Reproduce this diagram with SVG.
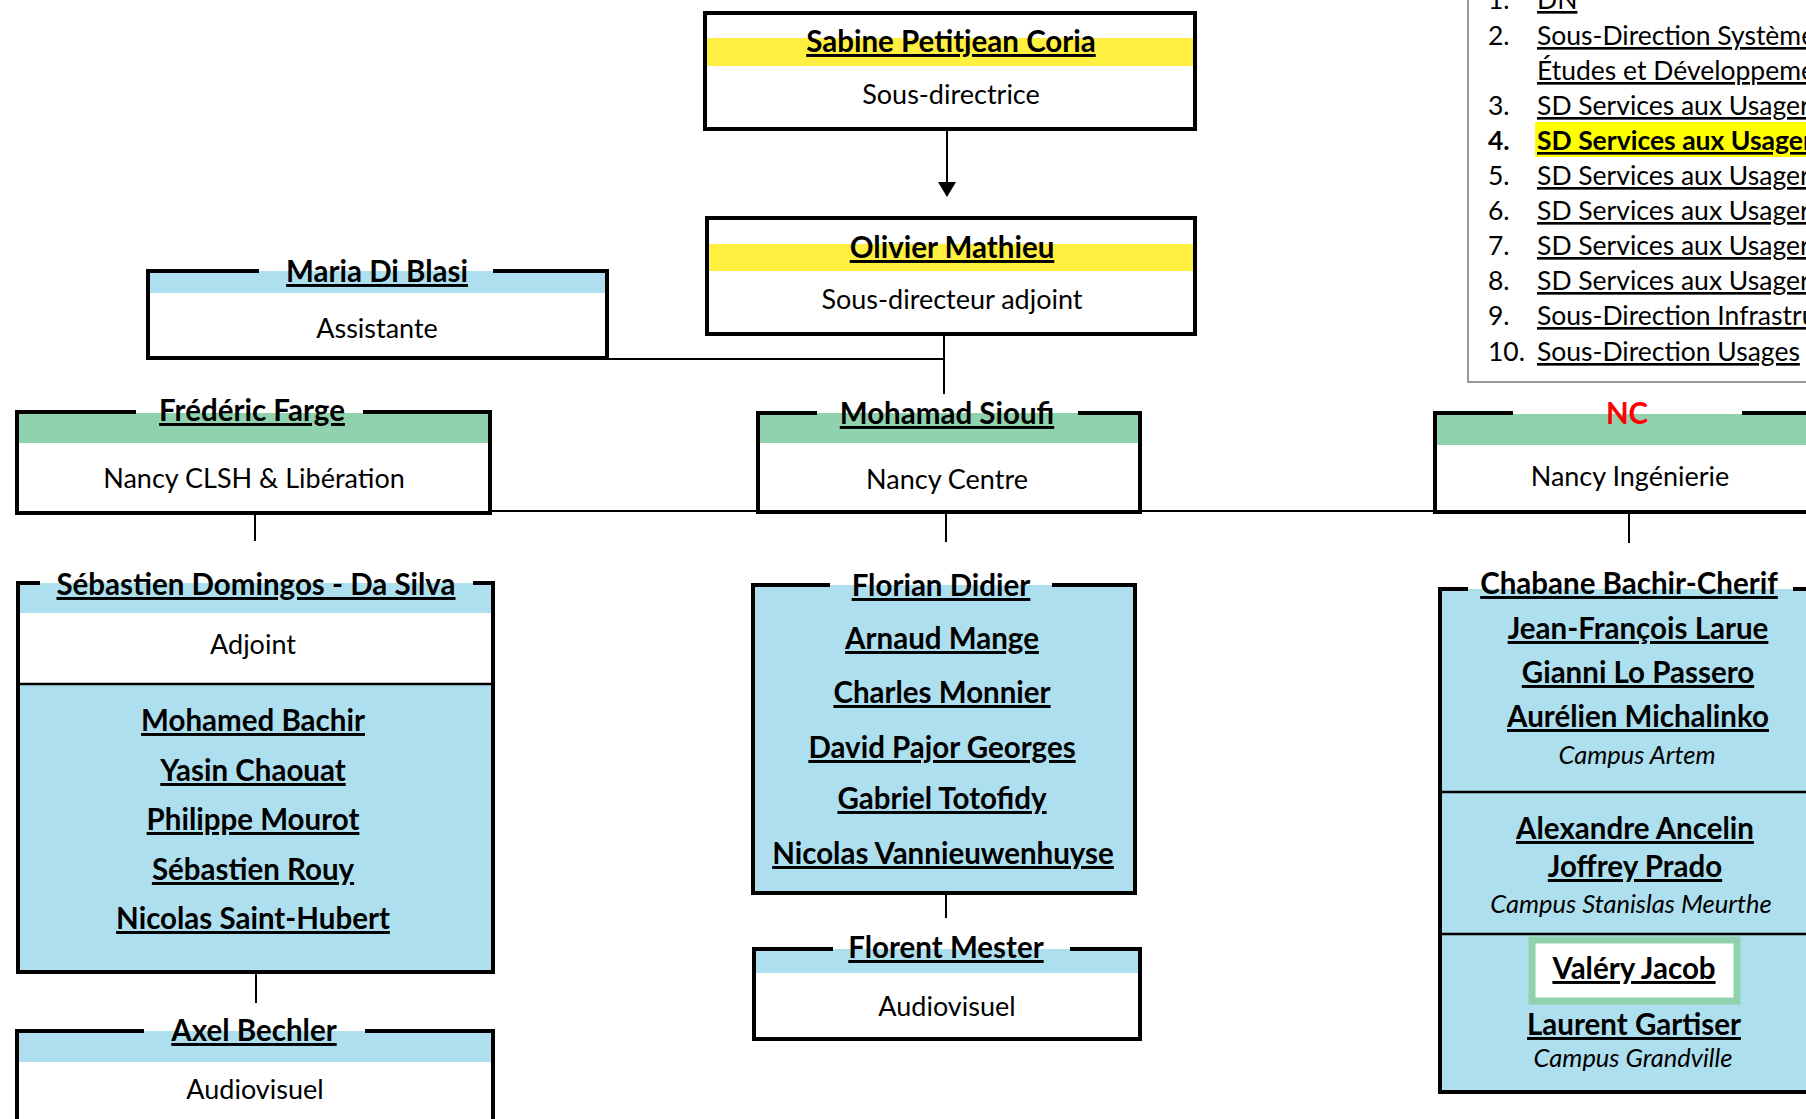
<svg xmlns="http://www.w3.org/2000/svg" width="1806" height="1119" viewBox="0 0 1806 1119">
<style>
text{font-family:Lato,"Liberation Sans",sans-serif;fill:#000}
.nm{font-size:29.5px;font-weight:bold;text-decoration:underline;text-anchor:middle}
.sub{font-size:27px;text-anchor:middle}
.it{font-size:25.5px;font-style:italic;text-anchor:middle}
.lg{font-size:26.5px}
.lk{text-decoration:underline}
.bx{fill:none;stroke:#000;stroke-width:4}
.cn{fill:none;stroke:#000;stroke-width:2}
.yl{fill:#FFEF40}
.bl{fill:#AEDFEE}
.gr{fill:#91D2AE}
</style>
<rect width="1806" height="1119" fill="#fff"/>

<g id="legend">
<rect x="1468" y="-10" width="400" height="392" fill="#fff" stroke="#999" stroke-width="2"/>
<rect x="1535" y="122" width="300" height="35" fill="#FFFF00"/>
<text class="lg" x="1488" y="9">1.</text><text class="lg lk" x="1537" y="9">DN</text>
<text class="lg" x="1488" y="45">2.</text><text class="lg lk" x="1537" y="45">Sous-Direction Systèmes</text>
<text class="lg lk" x="1537" y="80">Études et Développement</text>
<text class="lg" x="1488" y="115">3.</text><text class="lg lk" x="1537" y="115">SD Services aux Usagers</text>
<text class="lg" x="1488" y="150" font-weight="bold">4.</text><text class="lg lk" x="1537" y="150" font-weight="bold">SD Services aux Usagers</text>
<text class="lg" x="1488" y="185">5.</text><text class="lg lk" x="1537" y="185">SD Services aux Usagers</text>
<text class="lg" x="1488" y="220">6.</text><text class="lg lk" x="1537" y="220">SD Services aux Usagers</text>
<text class="lg" x="1488" y="255">7.</text><text class="lg lk" x="1537" y="255">SD Services aux Usagers</text>
<text class="lg" x="1488" y="290">8.</text><text class="lg lk" x="1537" y="290">SD Services aux Usagers</text>
<text class="lg" x="1488" y="325">9.</text><text class="lg lk" x="1537" y="325">Sous-Direction Infrastruc</text>
<text class="lg" x="1488" y="361">10.</text><text class="lg lk" x="1537" y="361">Sous-Direction Usages</text>
</g>

<g id="connectors">
<line class="cn" x1="947" y1="131" x2="947" y2="184"/>
<polygon points="938,182 956,182 947,197" fill="#000"/>
<line class="cn" x1="944" y1="336" x2="944" y2="394"/>
<line class="cn" x1="607" y1="359" x2="944" y2="359"/>
<line class="cn" x1="490" y1="511" x2="1436" y2="511"/>
<line class="cn" x1="255" y1="513" x2="255" y2="541"/>
<line class="cn" x1="946" y1="512" x2="946" y2="542"/>
<line class="cn" x1="1629" y1="512" x2="1629" y2="543"/>
<line class="cn" x1="256" y1="972" x2="256" y2="1003"/>
<line class="cn" x1="946" y1="889" x2="946" y2="918"/>
</g>

<g id="sabine">
<rect x="705" y="13" width="490" height="116" fill="#fff"/>
<rect class="yl" x="707" y="38" width="486" height="28"/>
<rect class="bx" x="705" y="13" width="490" height="116"/>
<text class="nm" x="951" y="52">Sabine Petitjean Coria</text>
<text class="sub" x="951" y="104">Sous-directrice</text>
</g>

<g id="olivier">
<rect x="707" y="218" width="488" height="116" fill="#fff"/>
<rect class="yl" x="709" y="244" width="484" height="27"/>
<rect class="bx" x="707" y="218" width="488" height="116"/>
<text class="nm" x="952" y="258">Olivier Mathieu</text>
<text class="sub" x="952" y="309">Sous-directeur adjoint</text>
</g>

<g id="maria">
<rect x="148" y="271" width="459" height="87" fill="#fff"/>
<rect class="bl" x="150" y="271" width="455" height="22"/>
<path class="bx" d="M259,271 H148 V358 H607 V271 H493"/>
<text class="nm" x="377" y="282">Maria Di Blasi</text>
<text class="sub" x="377" y="338">Assistante</text>
</g>

<g id="frederic">
<rect x="17" y="412" width="473" height="101" fill="#fff"/>
<rect class="gr" x="19" y="413" width="469" height="30"/>
<path class="bx" d="M136,412 H17 V513 H490 V412 H363"/>
<text class="nm" x="252" y="421">Frédéric Farge</text>
<text class="sub" x="254" y="488">Nancy CLSH &amp; Libération</text>
</g>

<g id="mohamad">
<rect x="758" y="413" width="382" height="99" fill="#fff"/>
<rect class="gr" x="760" y="413" width="378" height="30"/>
<path class="bx" d="M817,413 H758 V512 H1140 V413 H1078"/>
<text class="nm" x="947" y="424">Mohamad Sioufi</text>
<text class="sub" x="947" y="489">Nancy Centre</text>
</g>

<g id="nc">
<rect x="1435" y="413" width="395" height="99" fill="#fff"/>
<rect class="gr" x="1437" y="414" width="393" height="31"/>
<path class="bx" d="M1513,413 H1435 V512 H1830 M1830,413 H1742"/>
<text class="nm" x="1627" y="424" style="fill:#FF0000;text-decoration:none">NC</text>
<text class="sub" x="1630" y="486">Nancy Ingénierie</text>
</g>

<g id="sebastien">
<rect class="bl" x="18" y="583" width="475" height="389"/>
<rect x="20" y="613" width="471" height="71" fill="#fff"/>
<line x1="18" y1="684" x2="493" y2="684" stroke="#000" stroke-width="2.5"/>
<path class="bx" d="M40,583 H18 V972 H493 V583 H473"/>
<text class="nm" x="256" y="595">Sébastien Domingos - Da Silva</text>
<text class="sub" x="253" y="654">Adjoint</text>
<text class="nm" x="253" y="731">Mohamed Bachir</text>
<text class="nm" x="253" y="781">Yasin Chaouat</text>
<text class="nm" x="253" y="830">Philippe Mourot</text>
<text class="nm" x="253" y="880">Sébastien Rouy</text>
<text class="nm" x="253" y="929">Nicolas Saint-Hubert</text>
</g>

<g id="axel">
<rect x="17" y="1031" width="476" height="100" fill="#fff"/>
<rect class="bl" x="19" y="1031" width="472" height="31"/>
<path class="bx" d="M144,1031 H17 V1130 M493,1130 V1031 H365"/>
<text class="nm" x="254" y="1041">Axel Bechler</text>
<text class="sub" x="255" y="1099">Audiovisuel</text>
</g>

<g id="florian">
<rect class="bl" x="753" y="585" width="382" height="308"/>
<path class="bx" d="M830,585 H753 V893 H1135 V585 H1052"/>
<text class="nm" x="941" y="596">Florian Didier</text>
<text class="nm" x="942" y="649">Arnaud Mange</text>
<text class="nm" x="942" y="703">Charles Monnier</text>
<text class="nm" x="942" y="758">David Pajor Georges</text>
<text class="nm" x="942" y="809">Gabriel Totofidy</text>
<text class="nm" x="943" y="864">Nicolas Vannieuwenhuyse</text>
</g>

<g id="florent">
<rect x="754" y="949" width="386" height="90" fill="#fff"/>
<rect class="bl" x="756" y="949" width="382" height="24"/>
<path class="bx" d="M833,949 H754 V1039 H1140 V949 H1070"/>
<text class="nm" x="946" y="958">Florent Mester</text>
<text class="sub" x="947" y="1016">Audiovisuel</text>
</g>

<g id="chabane">
<rect class="bl" x="1440" y="589" width="390" height="503"/>
<line x1="1440" y1="792" x2="1830" y2="792" stroke="#000" stroke-width="2.5"/>
<line x1="1440" y1="934" x2="1830" y2="934" stroke="#000" stroke-width="2.5"/>
<path class="bx" d="M1468,589 H1440 V1092 H1830 M1830,589 H1793"/>
<text class="nm" x="1629" y="594">Chabane Bachir-Cherif</text>
<text class="nm" x="1638" y="639">Jean-François Larue</text>
<text class="nm" x="1638" y="683">Gianni Lo Passero</text>
<text class="nm" x="1638" y="727">Aurélien Michalinko</text>
<text class="it" x="1637" y="764">Campus Artem</text>
<text class="nm" x="1635" y="839">Alexandre Ancelin</text>
<text class="nm" x="1635" y="877">Joffrey Prado</text>
<text class="it" x="1631" y="913">Campus Stanislas Meurthe</text>
<rect x="1532" y="940" width="205" height="61" fill="#fff" stroke="#91D2AE" stroke-width="7"/>
<text class="nm" x="1634" y="979">Valéry Jacob</text>
<text class="nm" x="1634" y="1035">Laurent Gartiser</text>
<text class="it" x="1633" y="1067">Campus Grandville</text>
</g>
</svg>
